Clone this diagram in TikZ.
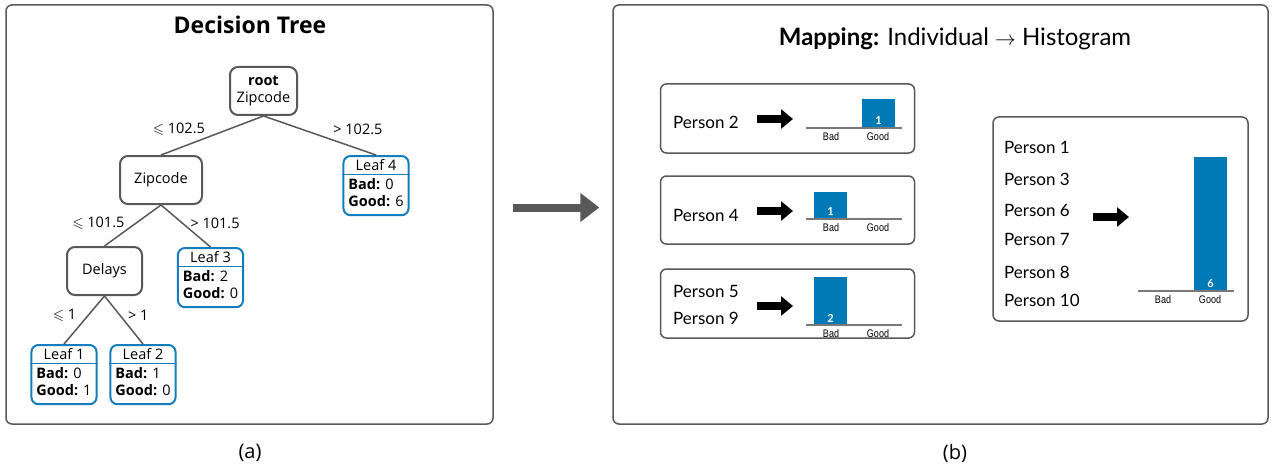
\documentclass[tikz,border=0pt]{standalone}
\usepackage{fontspec}
\usepackage{amssymb}
\setmainfont{Open Sans}
\newfontfamily\mapfont{Lato}
\newfontfamily\tickfont[FakeStretch=0.82]{Liberation Sans}
\usetikzlibrary{positioning, arrows.meta, shapes.multipart, calc}
\definecolor{framegray}{RGB}{88,88,88}
\definecolor{axisgray}{RGB}{120,120,120}
\definecolor{leafblue}{RGB}{20,125,190}
\definecolor{barblue}{RGB}{0,122,182}

\tikzset{
  panel/.style={draw=framegray, line width=1.5pt, rounded corners=6pt, inner sep=0pt},
  test/.style={draw=framegray, line width=2pt, rounded corners=8pt, fill=white, align=center,
    minimum width=67, minimum height=48, font=\fontsize{14.5}{17}\selectfont},
  leaf/.style={rectangle split, rectangle split parts=2, rectangle split draw splits=false,
    draw=leafblue, line width=2pt, rounded corners=7pt, fill=white,
    inner xsep=5pt, inner ysep=2.5pt, font=\fontsize{14.5}{17}\selectfont},
  branch/.style={draw=framegray, line width=1.5pt},
  cond/.style={font=\fontsize{14.5}{16}\selectfont, inner sep=0pt},
  pbox/.style={draw=framegray, line width=1.5pt, rounded corners=6pt, inner sep=0pt},
  person/.style={font=\mapfont\fontsize{17}{20}\selectfont, anchor=west, inner sep=0pt},
  blockarrow/.style={line width=8pt, -{Triangle[length=12pt, width=19pt]}},
  bigarrow/.style={draw=framegray, line width=8pt, -{Triangle[length=19pt, width=28pt]}},
  axisline/.style={draw=axisgray, line width=1.3pt},
  count/.style={font=\mapfont\bfseries\fontsize{11}{12}\selectfont, text=white, inner sep=0pt},
  tick/.style={font=\tickfont\fontsize{11}{12}\selectfont, inner sep=0pt}
}

% small bar chart: name, axis left end x, y, slot (0 Bad / 1 Good), bar height, count
\newcommand{\barchart}[6]{%
  \coordinate (#1) at (#2,#3);
  \fill[barblue] ($(#1)+({8+48*#4},0)$) rectangle ++(33,-#5);
  \draw[axisline] (#1) -- ++(96,0);
  \node[count] (#1n) at ($(#1)+({24.5+48*#4},-7)$) {#6};
  \node[tick] (#1b) at ($(#1)+(25,9)$) {Bad};
  \node[tick] (#1g) at ($(#1)+(72,9)$) {Good};
}

\begin{document}
\begin{tikzpicture}[x=1pt, y=-1pt]
  \useasboundingbox (0,0) rectangle (1273,468);

  % the two frames
  \node[panel, minimum width=487, minimum height=419] (treepanel) at (249.5,214.5) {};
  \node[panel, minimum width=655, minimum height=419] (mappanel) at (940.5,214.5) {};
  \node[font=\bfseries\fontsize{23}{27}\selectfont] (treetitle) at (250,25) {Decision Tree};
  \node[font=\mapfont\fontsize{24}{28}\selectfont] (maptitle) at (955,39)
    {\textbf{Mapping:} Individual {\fontsize{20}{20}\selectfont$\rightarrow$} Histogram};

  % tree
  \node[test] (root) at (263.5,91) {\textbf{root}\\Zipcode};
  \node[test, minimum width=82] (zip) at (161,180) {Zipcode};
  \node[test, minimum width=75] (delays) at (104.5,271) {Delays};
  \node[leaf, anchor=north] (leaf4) at (376,155)
    {Leaf 4\nodepart{two}\begin{tabular}{@{}l@{}}\textbf{Bad:} 0\\\textbf{Good:} 6\end{tabular}};
  \node[leaf, anchor=north] (leaf3) at (210.5,247)
    {Leaf 3\nodepart{two}\begin{tabular}{@{}l@{}}\textbf{Bad:} 2\\\textbf{Good:} 0\end{tabular}};
  \node[leaf, anchor=north] (leaf1) at (64,344)
    {Leaf 1\nodepart{two}\begin{tabular}{@{}l@{}}\textbf{Bad:} 0\\\textbf{Good:} 1\end{tabular}};
  \node[leaf, anchor=north] (leaf2) at (143,344)
    {Leaf 2\nodepart{two}\begin{tabular}{@{}l@{}}\textbf{Bad:} 1\\\textbf{Good:} 0\end{tabular}};
  \foreach \l in {leaf1, leaf2, leaf3, leaf4}
    \draw[leafblue, line width=1pt] (\l.text split west) -- (\l.text split east);

  \draw[branch] (root.south) -- node[cond, pos=.33, left=24pt] (c1) {$\leqslant$ 102.5} (zip.north);
  \draw[branch] (root.south) -- node[cond, pos=.33, right=32pt] (c2) {> 102.5} (leaf4.north);
  \draw[branch] (zip.south) -- node[cond, pos=.44, left=11pt] (c3) {$\leqslant$ 101.5} (delays.north);
  \draw[branch] (zip.south) -- node[cond, pos=.44, right=7pt] (c4) {> 101.5} (leaf3.north);
  \draw[branch] (delays.south) -- node[cond, pos=.41, left=11pt] (c5) {$\leqslant$ 1} (leaf1.north);
  \draw[branch] (delays.south) -- node[cond, pos=.41, right=7pt] (c6) {> 1} (leaf2.north);

  \draw[bigarrow] ([xshift=19pt, yshift=7pt]treepanel.east) -- ([xshift=-13pt, yshift=7pt]mappanel.west);

  % individuals and their histograms
  \node[pbox, minimum width=254, minimum height=69] (box1) at (787.5,118.5) {};
  \node[pbox, minimum width=254, minimum height=68] (box2) at (787.5,210) {};
  \node[pbox, minimum width=254, minimum height=69] (box3) at (787.5,303.5) {};
  \node[pbox, minimum width=255, minimum height=204] (box4) at (1120.5,219) {};

  \node[person] (p2) at (673,122) {Person 2};
  \node[person] (p4) at (673,215) {Person 4};
  \node[person] (p5) at (673,291) {Person 5};
  \node[person] (p9) at (673,318) {Person 9};
  \node[person] (p1) at (1004,147) {Person 1};
  \node[person] (p3) at (1004,179) {Person 3};
  \node[person] (p6) at (1004,210) {Person 6};
  \node[person] (p7) at (1004,239) {Person 7};
  \node[person] (p8) at (1004,272) {Person 8};
  \node[person] (p10) at (1004,300) {Person 10};

  \coordinate (a1) at (757,119);
  \coordinate (a2) at (757,211);
  \coordinate (a3) at (757,306);
  \coordinate (a4) at (1093,217);
  \foreach \a in {a1, a2, a3, a4}
    \draw[blockarrow] (\a) -- ++(36,0);

  \barchart{h1}{806}{128}{1}{29}{1}
  \barchart{h2}{806}{219}{0}{27}{1}
  \barchart{h3}{806}{325}{0}{48}{2}
  \barchart{h4}{1138}{291}{1}{134}{6}

  % captions
  \node[font=\fontsize{20}{24}\selectfont] (capa) at (250,453) {(a)};
  \node[font=\fontsize{20}{24}\selectfont] (capb) at (955,453) {(b)};
\end{tikzpicture}
\end{document}
